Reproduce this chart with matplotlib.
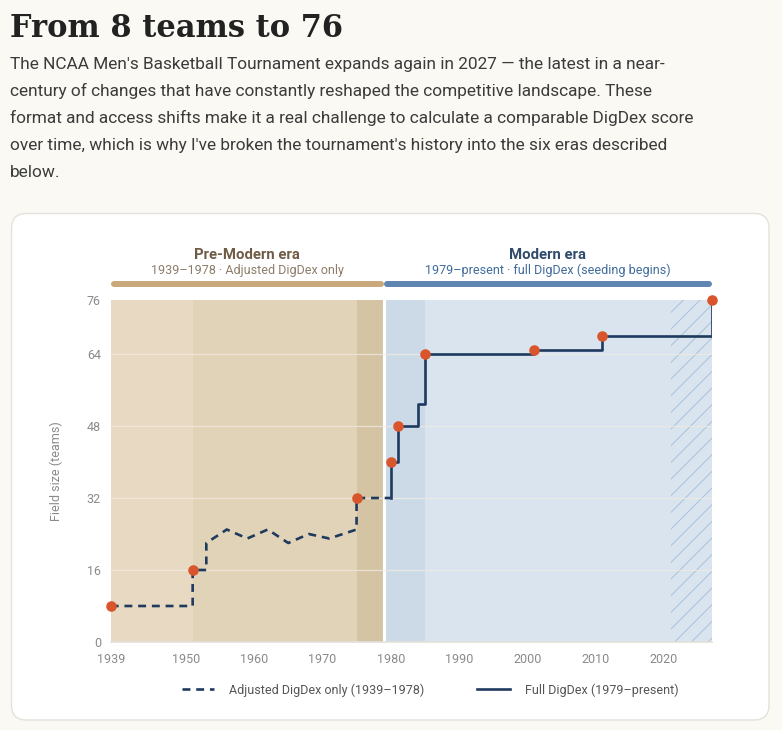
import matplotlib
matplotlib.use("Agg")
import matplotlib.pyplot as plt
import matplotlib.transforms as mtransforms
from matplotlib.patches import FancyBboxPatch
from matplotlib.lines import Line2D

# --- data ---
title = "From 8 teams to 76"
body_lines = [
    "The NCAA Men's Basketball Tournament expands again in 2027 \u2014 the latest in a near-",
    "century of changes that have constantly reshaped the competitive landscape. These",
    "format and access shifts make it a real challenge to calculate a comparable DigDex score",
    "over time, which is why I've broken the tournament's history into the six eras described",
    "below.",
]

# adjusted DigDex (pre-modern), vertices of the dashed line
adj_years = [1939, 1951, 1951, 1953, 1953, 1956, 1959, 1962, 1965, 1968, 1971, 1975, 1975, 1980]
adj_teams = [8, 8, 16, 16, 22, 25, 23, 25, 22, 24, 23, 25, 32, 32]

# full DigDex (modern), step series
full_years = [1980, 1980, 1981, 1984, 1985, 2001, 2011, 2027]
full_teams = [32, 40, 48, 53, 64, 65, 68, 76]

# highlighted expansion points
dot_years = [1939, 1951, 1975, 1980, 1981, 1985, 2001, 2011, 2027]
dot_teams = [8, 16, 32, 40, 48, 64, 65, 68, 76]

# background bands (start, end, colour)
bands = [
    (1939, 1951, "#e8d9c3"),
    (1951, 1975, "#e1d3b7"),
    (1975, 1979, "#d5c4a4"),
    (1979, 1985, "#ccdae8"),
    (1985, 2027, "#d9e4ef"),
]
future_span = (2021, 2027)

eras = [
    ("Pre-Modern era", "1939\u20131978 \u00b7 Adjusted DigDex only", 1939, 1979, "#c9a87c", "#6f5b46", "#8d7c69"),
    ("Modern era", "1979\u2013present \u00b7 full DigDex (seeding begins)", 1979, 2027, "#5f86b1", "#2f4a6a", "#3f6b9b"),
]

y_ticks = [0, 16, 32, 48, 64, 76]
x_ticks = [1939, 1950, 1960, 1970, 1980, 1990, 2000, 2010, 2020]

W, H = 782, 730
NAVY = "#1f3a5f"
DOT = "#d9552b"
SANS = ["Roboto", "DejaVu Sans"]

plt.rcParams["font.family"] = SANS
plt.rcParams["hatch.linewidth"] = 0.7

fig = plt.figure(figsize=(W / 100, H / 100), dpi=100)
fig.patch.set_facecolor("#faf9f4")

# pixel-space background axes for the card
bg = fig.add_axes([0, 0, 1, 1])
bg.set_xlim(0, W)
bg.set_ylim(H, 0)
bg.axis("off")
card = FancyBboxPatch((11.5, 213.5), 757.5, 506.5,
                      boxstyle="round,pad=0,rounding_size=15",
                      facecolor="white", edgecolor="#e4e2dc", linewidth=1.0)
bg.add_patch(card)

# title and intro text
fig.text(10 / W, 1 - 37 / H, title, family="DejaVu Serif", weight="bold",
         fontsize=22, color="#222222", va="baseline")
for i, line in enumerate(body_lines):
    fig.text(10 / W, 1 - (69 + 26.9 * i) / H, line, fontsize=12.45,
             color="#3b3b3b", va="baseline")

# main chart axes
x0, x1, y0, y1 = 110.7, 711.7, 300, 642
ax = fig.add_axes([x0 / W, 1 - y1 / H, (x1 - x0) / W, (y1 - y0) / H])
ax.set_xlim(1939, 2027)
ax.set_ylim(0, 76)

for a, b, c in bands:
    ax.axvspan(a, b, facecolor=c, edgecolor="none", zorder=0)
ax.axvspan(*future_span, facecolor="none", edgecolor="#a9c1dc", hatch="//",
           linewidth=0, zorder=0.5)
ax.axvline(1979, color="white", linewidth=2.2, zorder=1)

for t in y_ticks[1:-1]:
    ax.axhline(t, color="#f1ece3", linewidth=0.9, alpha=0.75, zorder=1)

ax.plot(adj_years, adj_teams, color=NAVY, linewidth=1.9, dashes=(3, 2.2),
        zorder=3)
ax.step(full_years, full_teams, where="post", color=NAVY, linewidth=1.9,
        zorder=3)
ax.plot(dot_years, dot_teams, "o", color=DOT, markersize=7.6, markeredgewidth=0,
        zorder=4, clip_on=False)

for side in ["top", "right", "left"]:
    ax.spines[side].set_visible(False)
ax.spines["bottom"].set_color("#e2e0da")
ax.spines["bottom"].set_linewidth(1.2)
ax.set_yticks(y_ticks)
ax.set_xticks(x_ticks)
ax.tick_params(length=0, labelsize=9, labelcolor="#8a8a8a")
ax.tick_params(axis="y", pad=7)
ax.tick_params(axis="x", pad=8)
ax.set_ylabel("Field size (teams)", fontsize=9, color="#8a8a8a", labelpad=17)

# era headers above the plot
trans = mtransforms.blended_transform_factory(ax.transData, ax.transAxes)
for name, sub, a, b, bar_c, name_c, sub_c in eras:
    mid = (a + b) / 2
    ax.text(mid, 1.131, name, transform=trans, ha="center", va="center",
            fontsize=10.7, fontweight="semibold", color=name_c)
    ax.text(mid, 1.087, sub, transform=trans, ha="center", va="center",
            fontsize=9.0, color=sub_c)
    ax.plot([a + 0.45, b - 0.45], [1.0468, 1.0468], transform=trans,
            color=bar_c, linewidth=4.3, solid_capstyle="round", clip_on=False)

# legend
handles = [
    Line2D([], [], color=NAVY, linewidth=1.9, dashes=(3, 2.2)),
    Line2D([], [], color=NAVY, linewidth=1.9),
]
labels = ["Adjusted DigDex only (1939\u20131978)", "Full DigDex (1979\u2013present)"]
fig.legend(handles, labels, loc="center", bbox_to_anchor=(430 / W, 1 - 690 / H),
           ncol=2, frameon=False, fontsize=9, labelcolor="#555555",
           handlelength=2.6, handletextpad=1.2, columnspacing=4.2)

fig.savefig("out.png", dpi=100, facecolor=fig.get_facecolor())
